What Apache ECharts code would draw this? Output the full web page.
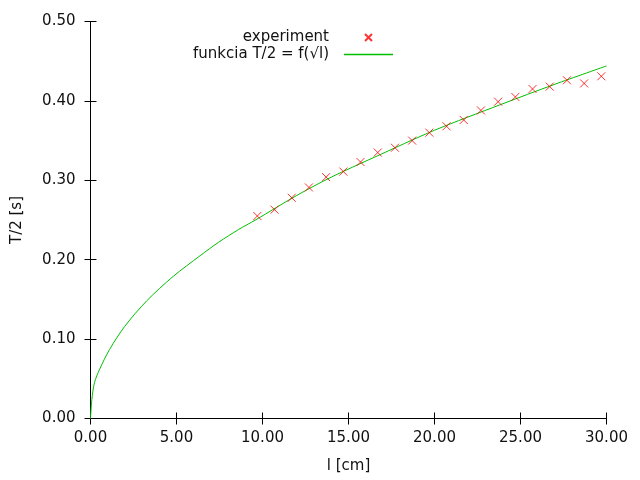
<!DOCTYPE html>
<html>
<head>
<meta charset="utf-8">
<script src="https://cdn.jsdelivr.net/npm/echarts@6/dist/echarts.min.js"></script>
<style>html,body{margin:0;padding:0;background:#fff}#c{width:640px;height:480px}</style>
</head>
<body>
<div id="c"></div>
<script>
// experiment: pendulum length l [cm] and half period T/2 [s]
const expL = [9.7, 10.7, 11.7, 12.7, 13.7, 14.7, 15.7, 16.7, 17.7, 18.7, 19.7, 20.7, 21.7, 22.7, 23.7, 24.7, 25.7, 26.7, 27.7, 28.7, 29.7];
const expT = [0.255, 0.263, 0.278, 0.291, 0.304, 0.311, 0.323, 0.335, 0.341, 0.350, 0.360, 0.368, 0.376, 0.388, 0.399, 0.405, 0.415, 0.418, 0.426, 0.422, 0.431];
// function curve
const fitL = [0, 0.08, 0.23, 0.53, 1.11, 1.99, 3.26, 4.81, 6.37, 7.45, 8.61, 9.59, 12, 14, 16.5, 20, 23.8, 27, 30];
const fitT = [0, 0.024, 0.045, 0.062, 0.087, 0.116, 0.148, 0.179, 0.205, 0.222, 0.238, 0.250, 0.281, 0.304, 0.329, 0.363, 0.395, 0.421, 0.444];
const xTicks = [0, 5, 10, 15, 20, 25, 30];
const yTicks = [0, 0.1, 0.2, 0.3, 0.4, 0.5];
const names = ['experiment', 'funkcia T/2 = f(\u221Al)'];

const FONT = 'DejaVu Sans';
const FS = 15;
const TXT = '#111';
const chart = echarts.init(document.getElementById('c'), null, {renderer: 'canvas'});
const axisCommon = {
  axisLine: {show: true, lineStyle: {color: '#000', width: 1}},
  axisTick: {show: true, inside: true, length: 6, lineStyle: {color: '#000'}},
  splitLine: {show: false}
};
const xMin = xTicks[0], xMax = xTicks[xTicks.length - 1], xInt = xTicks[1] - xTicks[0];
const yMin = yTicks[0], yMax = yTicks[yTicks.length - 1], yInt = yTicks[1] - yTicks[0];
chart.setOption({
  animation: false,
  backgroundColor: '#fff',
  textStyle: {fontFamily: FONT},
  grid: {left: 90.5, right: 33.5, top: 21.5, bottom: 61.5, containLabel: false},
  legend: [
    {data: [names[0]], orient: 'vertical', right: 262, top: 25, align: 'right', itemWidth: 49, itemHeight: 7,
     textStyle: {fontFamily: FONT, fontSize: FS, color: TXT, padding: [0, 10, 0, 0]}},
    {data: [{name: names[1], icon: 'rect'}], orient: 'vertical', right: 242, top: 42, align: 'right', itemWidth: 49, itemHeight: 1.5,
     textStyle: {fontFamily: FONT, fontSize: FS, color: TXT, padding: [0, 10, 0, 0]}}
  ],
  xAxis: [
    Object.assign({type: 'value', position: 'bottom', min: xMin, max: xMax, interval: xInt,
      name: 'l [cm]', nameLocation: 'middle', nameGap: 40,
      nameTextStyle: {fontFamily: FONT, fontSize: FS, color: TXT},
      axisLabel: {fontFamily: FONT, fontSize: FS, color: TXT, margin: 12, formatter: v => v.toFixed(2)}}, axisCommon),
    Object.assign({type: 'value', position: 'top', min: xMin, max: xMax, interval: xInt,
      axisLabel: {show: false}}, axisCommon)
  ],
  yAxis: [
    Object.assign({type: 'value', position: 'left', min: yMin, max: yMax, interval: yInt,
      name: 'T/2 [s]', nameLocation: 'middle', nameGap: 66, nameRotate: 90,
      nameTextStyle: {fontFamily: FONT, fontSize: FS, color: TXT},
      axisLabel: {fontFamily: FONT, fontSize: FS, color: TXT, margin: 15, formatter: v => v.toFixed(2)}}, axisCommon),
    Object.assign({type: 'value', position: 'right', min: yMin, max: yMax, interval: yInt,
      axisLabel: {show: false}}, axisCommon)
  ],
  series: [
    {name: names[0], type: 'scatter', xAxisIndex: 0, yAxisIndex: 0,
     data: expL.map((l, i) => [l, expT[i]]),
     symbol: 'path://M0,0L10,10M10,0L0,10', symbolSize: 8,
     itemStyle: {color: 'rgba(0,0,0,0)', borderColor: '#ff0000', borderWidth: 1}, z: 3},
    {name: names[1], type: 'line', xAxisIndex: 0, yAxisIndex: 0,
     data: fitL.map((l, i) => [l, fitT[i]]),
     showSymbol: false, symbol: 'none', smooth: 0.3,
     lineStyle: {color: '#00c000', width: 1}, itemStyle: {color: '#00c000'}, z: 2}
  ]
});
</script>
</body>
</html>
